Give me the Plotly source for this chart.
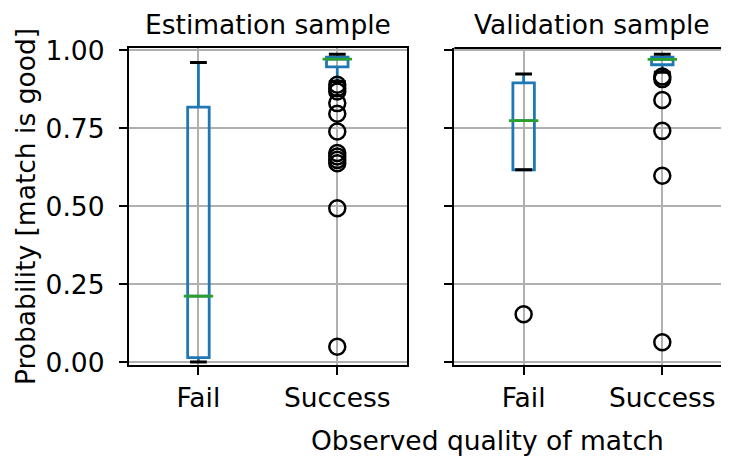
import plotly.graph_objects as go

# ---------------- data ----------------
categories = ["Fail", "Success"]
positions = [1, 2]

est_q1 = [0.015, 0.947]
est_median = [0.212, 0.972]
est_q3 = [0.818, 0.978]
est_lower = [0.001, 0.900]
est_upper = [0.961, 0.988]
est_fail_outliers = []
est_success_outliers = [0.890, 0.879, 0.868, 0.831, 0.797, 0.740,
                        0.671, 0.660, 0.649, 0.638, 0.494, 0.050]

val_q1 = [0.617, 0.954]
val_median = [0.775, 0.971]
val_q3 = [0.896, 0.978]
val_lower = [0.617, 0.930]
val_upper = [0.924, 0.988]
val_fail_outliers = [0.154]
val_success_outliers = [0.916, 0.908, 0.841, 0.742, 0.598, 0.064]

panel_titles = ["Estimation sample", "Validation sample"]
y_ticks = [0.0, 0.25, 0.5, 0.75, 1.0]
y_title = "Probability [match is good]"
x_title = "Observed quality of match"

# ---------------- style ----------------
OFF = 8                      # default body margin of the html page
W, H = 729 - OFF, 456 - OFF
ML, MT = 129 - OFF, 48 - OFF
PLOT_BOTTOM = 365 - OFF
MR, MB = 0, H - PLOT_BOTTOM
PW, PH = W - ML - MR, H - MT - MB
FONT = "DejaVu Sans"
FS = 26.5
BLUE = "#1f77b4"
GREEN = "#2ca02c"
GRID = "#b0b0b0"
BOX_W = 0.155


def px_x(p):
    """page pixel -> paper x"""
    return (p - OFF - ML) / PW


def px_y(p):
    """page pixel -> paper y"""
    return (PLOT_BOTTOM - (p - OFF)) / PH


fig = go.Figure()

panels = [
    (est_q1, est_median, est_q3, est_lower, est_upper,
     [est_fail_outliers, est_success_outliers], "x", "y"),
    (val_q1, val_median, val_q3, val_lower, val_upper,
     [val_fail_outliers, val_success_outliers], "x2", "y2"),
]

for q1, med, q3, lo, hi, outs, xa, ya in panels:
    fig.add_trace(go.Box(
        x=positions, q1=q1, median=med, q3=q3,
        lowerfence=lo, upperfence=hi,
        width=BOX_W, whiskerwidth=0, boxpoints=False,
        line=dict(color=BLUE, width=2.8), fillcolor="rgba(0,0,0,0)",
        xaxis=xa, yaxis=ya, showlegend=False, hoverinfo="skip",
        orientation="v",
    ))
    # medians
    fig.add_trace(go.Scatter(
        x=positions, y=med, mode="markers",
        marker=dict(symbol="line-ew", size=21,
                    line=dict(color=GREEN, width=2.8)),
        xaxis=xa, yaxis=ya, showlegend=False, hoverinfo="skip"))
    # caps
    fig.add_trace(go.Scatter(
        x=positions + positions, y=lo + hi, mode="markers",
        marker=dict(symbol="line-ew", size=12,
                    line=dict(color="black", width=3)),
        xaxis=xa, yaxis=ya, showlegend=False, hoverinfo="skip"))
    # outliers
    ox, oy = [], []
    for pos, vals in zip(positions, outs):
        ox += [pos] * len(vals)
        oy += vals
    fig.add_trace(go.Scatter(
        x=ox, y=oy, mode="markers",
        marker=dict(symbol="circle-open", size=16,
                    color="black", line=dict(color="black", width=2.5)),
        xaxis=xa, yaxis=ya, showlegend=False, hoverinfo="skip"))

axis_common = dict(
    showgrid=True, gridcolor=GRID, gridwidth=2,
    showline=True, linecolor="black", linewidth=2.2,
    ticks="outside", ticklen=8, tickwidth=2.2, tickcolor="black",
    zeroline=False,
    tickfont=dict(family=FONT, size=FS, color="black"),
)

fig.update_layout(
    width=W, height=H,
    margin=dict(l=ML, r=MR, t=MT, b=MB),
    paper_bgcolor="white", plot_bgcolor="white",
    boxmode="overlay",
    xaxis=dict(domain=[0, px_x(406.7)], range=[0.5, 2.5],
               tickvals=positions, ticktext=categories, mirror=True,
               anchor="y", ticklabelstandoff=0, **axis_common),
    xaxis2=dict(domain=[px_x(454.3), 1], range=[0.5, 2.481],
                tickvals=positions, ticktext=categories, mirror=False,
                anchor="y2", ticklabelstandoff=0, **axis_common),
    yaxis=dict(domain=[0, 1], range=[-0.0087, 1.0077], tickvals=y_ticks,
               tickformat=".2f", mirror=True, anchor="x",
               ticklabelstandoff=9, **axis_common),
    yaxis2=dict(domain=[0, 1], range=[-0.0087, 1.0077], tickvals=y_ticks,
                showticklabels=False, mirror=False, anchor="x2",
                **axis_common),
    shapes=[dict(type="line", xref="paper", yref="paper",
                 x0=px_x(454.3), x1=1, y0=1, y1=1,
                 line=dict(color="black", width=2.2))],
    annotations=[
        dict(text=panel_titles[0], x=px_x(268), y=px_y(24), xref="paper",
             yref="paper", showarrow=False, xanchor="center", yanchor="middle",
             font=dict(family=FONT, size=FS, color="black")),
        dict(text=panel_titles[1], x=px_x(592), y=px_y(24), xref="paper",
             yref="paper", showarrow=False, xanchor="center", yanchor="middle",
             font=dict(family=FONT, size=FS, color="black")),
        dict(text=y_title, x=px_x(25), y=px_y(207), xref="paper",
             yref="paper", showarrow=False, textangle=-90,
             xanchor="center", yanchor="middle",
             font=dict(family=FONT, size=FS, color="black")),
        dict(text=x_title, x=px_x(487), y=px_y(440), xref="paper",
             yref="paper", showarrow=False, xanchor="center", yanchor="middle",
             font=dict(family=FONT, size=FS, color="black")),
    ],
)

fig.write_html("out.html")
